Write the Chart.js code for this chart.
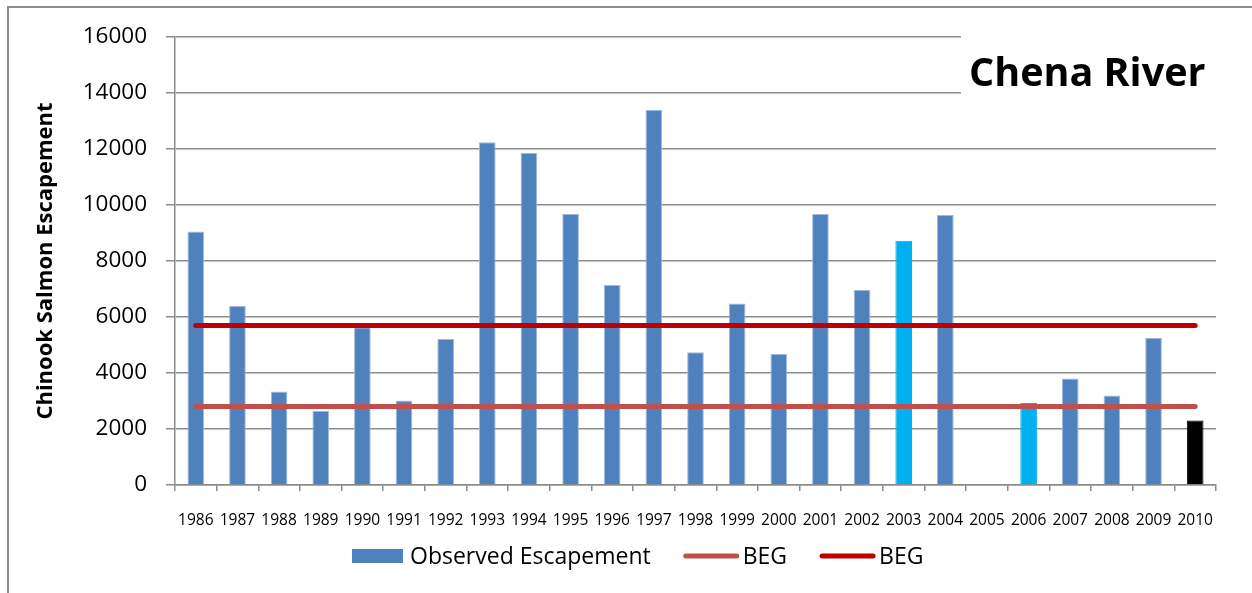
<!DOCTYPE html>
<html>
<head>
<meta charset="utf-8">
<script src="https://cdn.jsdelivr.net/npm/chart.js@4"></script>
<style>
  html, body { margin: 0; padding: 0; background: #fff; }
  #wrap { width: 1252px; height: 593px; position: relative; }
</style>
</head>
<body>
<div id="wrap"><canvas id="c" width="1252" height="593"></canvas></div>
<script>
// Chena River Chinook salmon escapement by year
const years = ['1986','1987','1988','1989','1990','1991','1992','1993','1994','1995','1996','1997','1998','1999','2000','2001','2002','2003','2004','2005','2006','2007','2008','2009','2010'];
const escapement = [9050, 6400, 3340, 2650, 5630, 3020, 5210, 12240, 11870, 9680, 7140, 13390, 4740, 6480, 4680, 9680, 6960, 8720, 9640, null, 2930, 3800, 3200, 5250, 2300];
// Biological escapement goal range
const begLower = 2800;
const begUpper = 5700;
const yTickValues = [0, 2000, 4000, 6000, 8000, 10000, 12000, 14000, 16000];
// Years drawn in other colours
const cyanYears = ['2003', '2006'];
const blackYears = ['2010'];

const FONT = "'Open Sans', 'DejaVu Sans', sans-serif";
const GRID = '#8c8c8c';
const BLUE = '#4F81BD';

const barColors = years.map(y => cyanYears.includes(y) ? '#00B0F0' : blackYears.includes(y) ? '#000000' : BLUE);
const barBorders = years.map(y => cyanYears.includes(y) ? '#00B0F0' : blackYears.includes(y) ? '#000000' : '#9dbbe0');

const chromePlugin = {
  id: 'chrome',
  beforeDraw(chart) {
    const ctx = chart.ctx;
    ctx.save();
    ctx.fillStyle = '#fff';
    ctx.fillRect(0, 0, chart.width, chart.height);
    ctx.strokeStyle = GRID;
    ctx.lineWidth = 2;
    ctx.beginPath();
    ctx.moveTo(8, chart.height + 2);
    ctx.lineTo(8, 7);
    ctx.lineTo(chart.width + 2, 7);
    ctx.stroke();
    ctx.restore();
  },
  afterDraw(chart) {
    const ctx = chart.ctx;
    const area = chart.chartArea;
    ctx.save();
    // Title box
    ctx.fillStyle = '#fff';
    ctx.fillRect(961, area.top - 3, area.right - 961 + 2, 62);
    ctx.fillStyle = '#000';
    ctx.font = "bold 39.5px " + FONT;
    ctx.textBaseline = 'alphabetic';
    ctx.textAlign = 'left';
    ctx.fillText('Chena River', 969, 86);

    // Legend
    const ly = 556;
    ctx.font = "23px " + FONT;
    ctx.textBaseline = 'middle';
    let x = 352;
    chart.data.datasets.forEach((ds) => {
      if (ds.type === 'line') {
        ctx.strokeStyle = ds.borderColor;
        ctx.lineWidth = 5;
        ctx.lineCap = 'round';
        ctx.beginPath();
        ctx.moveTo(x + 2, ly);
        ctx.lineTo(x + 53, ly);
        ctx.stroke();
        x += 59;
      } else {
        ctx.fillStyle = BLUE;
        ctx.fillRect(x, ly - 7, 51, 14);
        x += 58;
      }
      ctx.fillStyle = '#000';
      ctx.fillText(ds.label, x, ly + 1);
      x += ctx.measureText(ds.label).width + 33;
    });
    ctx.restore();
  }
};

new Chart(document.getElementById('c'), {
  data: {
    labels: years,
    datasets: [
      {
        type: 'bar',
        label: 'Observed Escapement',
        data: escapement,
        backgroundColor: barColors,
        borderColor: barBorders,
        borderWidth: 1,
        barPercentage: 0.4,
        categoryPercentage: 1.0,
        order: 3
      },
      {
        type: 'line',
        label: 'BEG',
        data: [{ x: years[0], y: begLower }, { x: years[years.length - 1], y: begLower }],
        borderColor: '#C0504D',
        borderWidth: 5,
        borderCapStyle: 'round',
        pointRadius: 0,
        order: 2
      },
      {
        type: 'line',
        label: 'BEG',
        data: [{ x: years[0], y: begUpper }, { x: years[years.length - 1], y: begUpper }],
        borderColor: '#C00000',
        borderWidth: 5,
        borderCapStyle: 'round',
        pointRadius: 0,
        order: 1
      }
    ]
  },
  options: {
    responsive: false,
    devicePixelRatio: 1,
    animation: false,
    layout: { padding: { left: 0, right: 36, top: 37, bottom: 0 } },
    plugins: { legend: { display: false }, tooltip: { enabled: false } },
    scales: {
      x: {
        type: 'category',
        offset: true,
        grid: { display: true, drawOnChartArea: false, drawTicks: true, tickLength: 6, color: GRID, lineWidth: 1.5, offset: true },
        border: { color: GRID, width: 1.5 },
        ticks: { font: { family: FONT, size: 15.5 }, color: '#000', padding: 20, maxRotation: 0, autoSkip: false },
        afterFit(s) { s.height = 108; }
      },
      y: {
        min: 0,
        max: 16000,
        afterBuildTicks(s) { s.ticks = yTickValues.map(v => ({ value: v })); },
        grid: { color: GRID, lineWidth: 1.5, tickLength: 9, drawTicks: true },
        border: { color: GRID, width: 1.5 },
        ticks: { font: { family: FONT, size: 22.5 }, color: '#000', padding: 19, callback: v => String(v) },
        title: {
          display: true,
          text: 'Chinook Salmon Escapement',
          font: { family: FONT, size: 22, weight: 'bold' },
          color: '#000',
          padding: { top: 33, bottom: 0 }
        },
        afterFit(s) { s.width = 175; }
      }
    }
  },
  plugins: [chromePlugin]
});
</script>
</body>
</html>
